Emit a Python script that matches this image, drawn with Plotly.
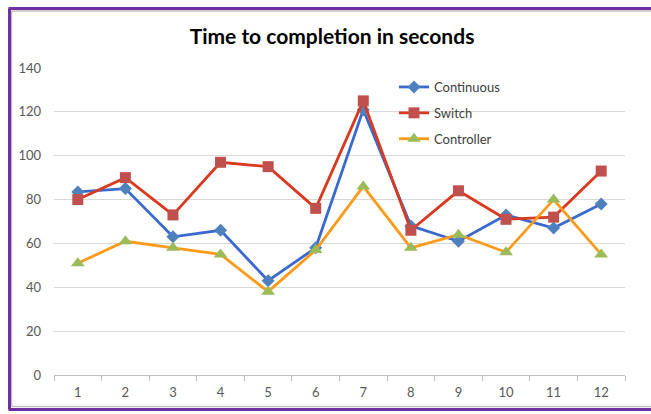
import plotly.graph_objects as go

categories = ["1", "2", "3", "4", "5", "6", "7", "8", "9", "10", "11", "12"]
continuous = [83.5, 85, 63, 66, 43, 58, 121, 68, 61, 73, 67, 78]
switch = [80, 90, 73, 97, 95, 76, 125, 66, 84, 71, 72, 93]
controller = [51, 61, 58, 55, 38, 57, 86, 58, 64, 56, 80, 55]
y_ticks = [0, 20, 40, 60, 80, 100, 120, 140]

FONT = "Lato, Open Sans, sans-serif"

fig = go.Figure()
fig.add_trace(go.Scatter(
    x=categories, y=continuous, name="Continuous", mode="lines+markers",
    legendgroup="a",
    line=dict(color="#3A6AD0", width=2.8),
    marker=dict(symbol="diamond", size=10, color="#4F81BD"),
))
fig.add_trace(go.Scatter(
    x=categories, y=switch, name="Switch", mode="lines+markers",
    legendgroup="b",
    line=dict(color="#D9391E", width=2.8),
    marker=dict(symbol="square", size=11, color="#C0504D"),
))
fig.add_trace(go.Scatter(
    x=categories, y=controller, name="Controller", mode="lines+markers",
    legendgroup="c",
    line=dict(color="#FF9A1A", width=2.8),
    marker=dict(symbol="triangle-up", size=12, color="#9BBB59"),
))

W, H = 651, 414
# plot area in page pixels
SL, SR, ST, SB = 54, 625, 68, 375
L, R, T, B = SL, W - SR, ST, H - SB
pw, ph = SR - SL, SB - ST


def px(x):  # page x -> paper
    return (x - SL) / pw


def py(y):  # page y -> paper
    return (SB - y) / ph


shapes = [
    # grey inner frame
    dict(type="line", xref="paper", yref="paper", x0=px(11.5), x1=px(651), y0=py(11), y1=py(11),
         line=dict(color="#BFBFBF", width=1.5)),
    dict(type="line", xref="paper", yref="paper", x0=px(11.5), x1=px(11.5), y0=py(11), y1=py(406.5),
         line=dict(color="#BFBFBF", width=1.5)),
    dict(type="line", xref="paper", yref="paper", x0=px(11.5), x1=px(651), y0=py(406.5), y1=py(406.5),
         line=dict(color="#BFBFBF", width=1.5)),
    # purple outer frame
    dict(type="line", xref="paper", yref="paper", x0=px(8.5), x1=px(651), y0=py(8.5), y1=py(8.5),
         line=dict(color="#7030A0", width=3)),
    dict(type="line", xref="paper", yref="paper", x0=px(9.5), x1=px(9.5), y0=py(8.5), y1=py(409.5),
         line=dict(color="#7030A0", width=3)),
    dict(type="line", xref="paper", yref="paper", x0=px(8.5), x1=px(651), y0=py(409.5), y1=py(409.5),
         line=dict(color="#7030A0", width=3)),
]

fig.update_layout(
    width=W, height=H,
    margin=dict(l=L, r=R, t=T, b=B),
    paper_bgcolor="white", plot_bgcolor="white",
    font=dict(family=FONT, color="#595959", size=13),
    title=dict(text="<b>Time to completion in seconds</b>", x=332 / W, xanchor="center",
               y=1 - 37 / H, yanchor="middle", xref="container", yref="container",
               font=dict(family=FONT, size=21, color="#000000")),
    showlegend=True,
    legend=dict(x=px(394), y=py(72), xanchor="left", yanchor="top",
                bgcolor="rgba(0,0,0,0)", font=dict(family=FONT, size=13, color="#404040"),
                tracegroupgap=6, itemwidth=30),
    shapes=shapes,
    xaxis=dict(type="category", range=[-0.5, 11.5], tickson="boundaries",
               showline=True, linecolor="#BFBFBF", linewidth=1,
               ticks="outside", ticklen=5, tickcolor="#BFBFBF",
               ticklabelstandoff=5,
               showgrid=False, zeroline=False, fixedrange=True),
    yaxis=dict(range=[0, 140], tickvals=y_ticks, showgrid=True, gridcolor="#D9D9D9",
               gridwidth=1.2, zeroline=False, showline=False, ticks="",
               ticklabelstandoff=12, fixedrange=True),
)

fig.write_html(
    "out.html",
    config={"displayModeBar": False},
    post_script="document.body.style.margin='0';document.body.style.overflow='hidden';",
)
